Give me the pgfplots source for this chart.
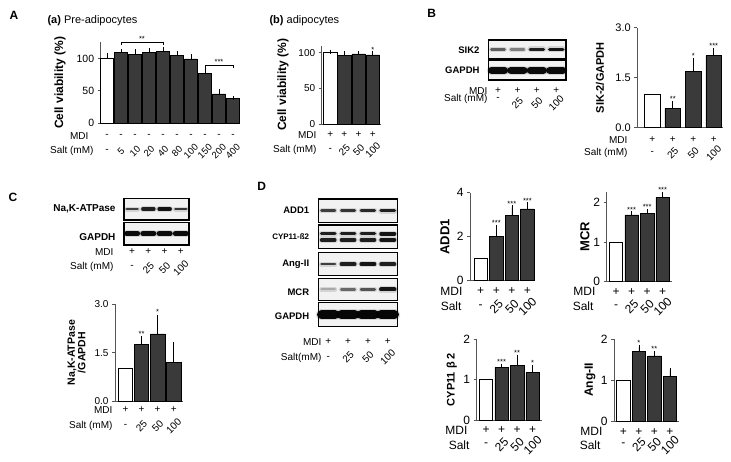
\documentclass[border=0pt]{standalone}
\usepackage{fontspec}
\setmainfont{Liberation Sans}
\usepackage{pgfplots}
\pgfplotsset{compat=1.18}

\definecolor{barc}{HTML}{3A3A3A}
\definecolor{axc}{HTML}{555555}
\newcommand{\fs}[1]{\fontsize{#1}{#1}\selectfont}

\pgfplotsset{
  barax/.style={
    scale only axis, clip=false, axis lines=left,
    axis line style={-, axc, line width=0.8pt},
    xtick=\empty, tick align=outside, major tick length=3pt,
    ytick style={axc, line width=0.8pt},
    ymin=0, enlargelimits=false,
    /pgf/number format/assume math mode=true,
    every axis y label/.style={at={(axis description cs:0,0.5)}, rotate=90, anchor=center, font=\bfseries\fs{10}, align=center},
  },
  blot/.style={scale only axis, xmin=0.5, xmax=4.5, ymin=0, ymax=1, ticks=none,
    axis line style={black, line width=1.1pt}, axis background/.style={fill=black!5}},
  errs/.style={error bars/.cd, y dir=plus, y explicit,
    error bar style={black, line width=0.6pt},
    error mark options={black, mark size=2pt, line width=0.6pt}},
  stars/.style={only marks, mark=*, mark size=0pt, mark options={draw=none,fill=none},
    nodes near coords, point meta=explicit symbolic,
    every node near coord/.append style={font=\fs{7.5}, anchor=south, inner sep=0pt, black}},
}

% rows under a 4-bar chart (bars at 0..3)
\newcommand{\rowsfour}[4]{%
  \node[font=\fs{#1}, yshift=-#2pt] at (axis cs:0,0) {+};
  \node[font=\fs{#1}, yshift=-#2pt] at (axis cs:1,0) {+};
  \node[font=\fs{#1}, yshift=-#2pt] at (axis cs:2,0) {+};
  \node[font=\fs{#1}, yshift=-#2pt] at (axis cs:3,0) {+};
  \node[font=\fs{#1}, yshift=-#3pt] at (axis cs:0,0) {-};
  \node[font=\fs{#1}, yshift=-#4pt, rotate=45] at (axis cs:1,0) {25};
  \node[font=\fs{#1}, yshift=-#4pt, rotate=45] at (axis cs:2,0) {50};
  \node[font=\fs{#1}, yshift=-#4pt, rotate=45] at (axis cs:3,0) {100};
}
% rows under a blot (lanes at 1..4)
\newcommand{\rowsblot}[4]{%
  \node[font=\fs{#1}, yshift=-#2pt] at (axis cs:1,0) {+};
  \node[font=\fs{#1}, yshift=-#2pt] at (axis cs:2,0) {+};
  \node[font=\fs{#1}, yshift=-#2pt] at (axis cs:3,0) {+};
  \node[font=\fs{#1}, yshift=-#2pt] at (axis cs:4,0) {+};
  \node[font=\fs{#1}, yshift=-#3pt] at (axis cs:1,0) {-};
  \node[font=\fs{#1}, yshift=-#4pt, rotate=45] at (axis cs:2,0) {25};
  \node[font=\fs{#1}, yshift=-#4pt, rotate=45] at (axis cs:3,0) {50};
  \node[font=\fs{#1}, yshift=-#4pt, rotate=45] at (axis cs:4,0) {100};
}
\newcommand{\band}[5]{%
  \addplot[black, line width=#4pt+2.5pt, opacity=0.12, line cap=round] coordinates {(#1,#3) (#2,#3)};
  \addplot[black, line width=#4pt, opacity=#5, line cap=round] coordinates {(#1,#3) (#2,#3)};
}

\begin{document}
\begin{tikzpicture}[x=1pt,y=1pt]
\path[use as bounding box] (0,0) rectangle (731,461);

% panel letters
\node[font=\bfseries\fs{12}] at (14,445.5) {A};
\node[font=\bfseries\fs{12}] at (431.7,447.7) {B};
\node[font=\bfseries\fs{12}] at (13,263.5) {C};
\node[font=\bfseries\fs{12}] at (261.7,274.3) {D};

% ---------------- A(a)
\node[anchor=west, font=\fs{11}] at (44,440.3) {\textbf{(a)} Pre-adipocytes};
\begin{axis}[barax, at={(100.7pt,337.7pt)}, anchor=south west,
  width=139.3pt, height=81pt, xmin=-0.45, xmax=9.5, ymax=125,
  ytick={0,50,100}, yticklabel style={font=\fs{10.5}},
  ylabel={Cell viability (\%)}, ylabel style={yshift=40.7pt, font=\bfseries\fs{12}}]
\addplot[ybar, bar shift=0pt, bar width=0.9, fill=white, draw=black, line width=0.6pt, errs]
  coordinates {(0,100.3) +- (0,5)};
\addplot[ybar, bar shift=0pt, bar width=0.9, fill=barc, draw=black, line width=0.5pt, errs]
  coordinates {(1,109.6) +- (0,2.5) (2,106.5) +- (0,5) (3,109.6) +- (0,3) (4,110.6) +- (0,4)
  (5,104.4) +- (0,4) (6,99.3) +- (0,4) (7,77.2) +- (0,5) (8,45.3) +- (0,4) (9,38.1) +- (0,1)};
\addplot[black, line width=0.6pt] coordinates {(1,120.5) (1,124.4) (4,124.4) (4,120.5)};
\addplot[black, line width=0.6pt] coordinates {(7,85.5) (7,89) (9,89) (9,85.5)};
\addplot[stars] coordinates {(2.5,125.2) [**] (8,89.8) [***]};
\node[font=\fs{10}, yshift=-12.7pt] at (axis cs:0,0) {-};
\node[font=\fs{10}, yshift=-12.7pt] at (axis cs:1,0) {-};
\node[font=\fs{10}, yshift=-12.7pt] at (axis cs:2,0) {-};
\node[font=\fs{10}, yshift=-12.7pt] at (axis cs:3,0) {-};
\node[font=\fs{10}, yshift=-12.7pt] at (axis cs:4,0) {-};
\node[font=\fs{10}, yshift=-12.7pt] at (axis cs:5,0) {-};
\node[font=\fs{10}, yshift=-12.7pt] at (axis cs:6,0) {-};
\node[font=\fs{10}, yshift=-12.7pt] at (axis cs:7,0) {-};
\node[font=\fs{10}, yshift=-12.7pt] at (axis cs:8,0) {-};
\node[font=\fs{10}, yshift=-12.7pt] at (axis cs:9,0) {-};
\node[font=\fs{10}, yshift=-27.7pt] at (axis cs:0,0) {-};
\node[font=\fs{9.5}, yshift=-28pt, rotate=45] at (axis cs:1,0) {5};
\node[font=\fs{9.5}, yshift=-28pt, rotate=45] at (axis cs:2,0) {10};
\node[font=\fs{9.5}, yshift=-28pt, rotate=45] at (axis cs:3,0) {20};
\node[font=\fs{9.5}, yshift=-28pt, rotate=45] at (axis cs:4,0) {40};
\node[font=\fs{9.5}, yshift=-28pt, rotate=45] at (axis cs:5,0) {80};
\node[font=\fs{9.5}, yshift=-28pt, rotate=45] at (axis cs:6,0) {100};
\node[font=\fs{9.5}, yshift=-28pt, rotate=45] at (axis cs:7,0) {150};
\node[font=\fs{9.5}, yshift=-28pt, rotate=45] at (axis cs:8,0) {200};
\node[font=\fs{9.5}, yshift=-28pt, rotate=45] at (axis cs:9,0) {400};
\end{axis}
\node[anchor=east, font=\fs{10}] at (92,325) {MDI};
\node[anchor=east, font=\fs{10}] at (97,310) {Salt (mM)};

% ---------------- A(b)
\node[anchor=west, font=\fs{11}] at (266,440.3) {\textbf{(b)} adipocytes};
\begin{axis}[barax, at={(321.7pt,337pt)}, anchor=south west,
  width=59.6pt, height=78.4pt, xmin=-0.6, xmax=3.6, ymax=110,
  ytick={0,50,100}, yticklabel style={font=\fs{10}},
  ylabel={Cell viability (\%)}, ylabel style={yshift=38.7pt, font=\bfseries\fs{12}}]
\addplot[ybar, bar shift=0pt, bar width=0.94, fill=white, draw=black, line width=0.6pt, errs]
  coordinates {(0,100) +- (0,0.6)};
\addplot[ybar, bar shift=0pt, bar width=0.94, fill=barc, draw=black, line width=0.5pt, errs]
  coordinates {(1,96.5) +- (0,2.5) (2,98.5) +- (0,0.8) (3,97) +- (0,3)};
\addplot[stars] coordinates {(3,100.5) [*]};
\rowsfour{10}{11}{26}{26}
\end{axis}
\node[anchor=east, font=\fs{10}] at (320,326) {MDI};
\node[anchor=east, font=\fs{10}] at (320,311) {Salt (mM)};

% ---------------- B blots
\begin{axis}[blot, at={(488.3pt,402pt)}, anchor=south west, width=77.7pt, height=19pt]
\band{0.66}{1.34}{0.5}{2.5}{0.55}
\band{1.66}{2.34}{0.5}{2.2}{0.4}
\band{2.66}{3.34}{0.5}{3.5}{0.85}
\band{3.66}{4.34}{0.5}{3.5}{0.9}
\end{axis}
\begin{axis}[blot, at={(488.3pt,381pt)}, anchor=south west, width=77.7pt, height=19.3pt, clip=false]
\band{0.66}{1.34}{0.5}{7}{0.95}
\band{1.66}{2.34}{0.5}{7}{0.95}
\band{2.66}{3.34}{0.5}{7}{0.95}
\band{3.66}{4.34}{0.5}{7}{0.95}
\rowsblot{10}{11}{19}{23}
\end{axis}
\node[anchor=east, font=\bfseries\fs{9.5}] at (483,411) {SIK2};
\node[anchor=east, font=\bfseries\fs{9.5}] at (483,391) {GAPDH};
\node[anchor=east, font=\fs{10}] at (491,370) {MDI};
\node[anchor=east, font=\fs{10}] at (491,362) {Salt (mM)};

% ---------------- B chart
\begin{axis}[barax, at={(637.3pt,333.3pt)}, anchor=south west,
  width=85.7pt, height=100pt, xmin=-0.73, xmax=3.45, ymax=3,
  ytick={0,1.5,3}, yticklabel style={font=\fs{11}, /pgf/number format/.cd, fixed, fixed zerofill, precision=1},
  ylabel={SIK-2/GAPDH}, ylabel style={yshift=37.3pt, font=\bfseries\fs{11}}]
\addplot[ybar, bar shift=0pt, bar width=0.77, fill=white, draw=black, line width=0.6pt]
  coordinates {(0,1)};
\addplot[ybar, bar shift=0pt, bar width=0.77, fill=barc, draw=black, line width=0.5pt, errs]
  coordinates {(1,0.58) +- (0,0.15) (2,1.70) +- (0,0.33) (3,2.16) +- (0,0.17)};
\addplot[stars] coordinates {(1,0.77) [**] (2,2.07) [*] (3,2.37) [***]};
\rowsfour{10}{12.3}{25.6}{25}
\end{axis}
\node[anchor=east, font=\fs{10}] at (631,321) {MDI};
\node[anchor=east, font=\fs{10}] at (631,308) {Salt (mM)};

% ---------------- C blots
\begin{axis}[blot, at={(124pt,241pt)}, anchor=south west, width=65pt, height=21.7pt]
\band{0.66}{1.34}{0.5}{2.5}{0.7}
\band{1.66}{2.34}{0.5}{3.5}{0.85}
\band{2.66}{3.34}{0.5}{3.5}{0.9}
\band{3.66}{4.34}{0.5}{2.5}{0.75}
\end{axis}
\begin{axis}[blot, at={(124pt,216pt)}, anchor=south west, width=65pt, height=22.7pt, clip=false]
\band{0.66}{1.34}{0.5}{5}{0.95}
\band{1.66}{2.34}{0.5}{5}{0.95}
\band{2.66}{3.34}{0.5}{5}{0.95}
\band{3.66}{4.34}{0.5}{5}{0.95}
\rowsblot{10}{6.7}{22.3}{23.3}
\end{axis}
\node[anchor=east, font=\bfseries\fs{10}] at (119,251.7) {Na,K-ATPase};
\node[anchor=east, font=\bfseries\fs{10}] at (119,224.3) {GAPDH};
\node[anchor=east, font=\fs{10}] at (117,209.3) {MDI};
\node[anchor=east, font=\fs{10}] at (117,193.7) {Salt (mM)};

% ---------------- C chart
\begin{axis}[barax, at={(115pt,60pt)}, anchor=south west,
  width=67.6pt, height=96.7pt, xmin=-0.65, xmax=3.55, ymax=3,
  ytick={0,1.5,3}, yticklabel style={font=\fs{10}, /pgf/number format/.cd, fixed, fixed zerofill, precision=1},
  ylabel={Na,K-ATPase\\/GAPDH}, ylabel style={yshift=38.5pt, font=\bfseries\fs{10.5}}]
\addplot[ybar, bar shift=0pt, bar width=0.89, fill=white, draw=black, line width=0.6pt]
  coordinates {(0,1.01)};
\addplot[ybar, bar shift=0pt, bar width=0.89, fill=barc, draw=black, line width=0.5pt, errs]
  coordinates {(1,1.76) +- (0,0.18) (2,2.08) +- (0,0.54) (3,1.19) +- (0,0.58)};
\addplot[stars] coordinates {(1,1.99) [**] (2,2.67) [*]};
\rowsfour{10}{9}{25}{25}
\end{axis}
\node[anchor=east, font=\fs{10}] at (116,51) {MDI};
\node[anchor=east, font=\fs{10}] at (116,35) {Salt (mM)};

% ---------------- D blots
\begin{axis}[blot, at={(318.3pt,238.7pt)}, anchor=south west, width=79.4pt, height=23.3pt]
\band{0.66}{1.34}{0.5}{2.5}{0.7}
\band{1.66}{2.34}{0.5}{2.5}{0.75}
\band{2.66}{3.34}{0.5}{3}{0.8}
\band{3.66}{4.34}{0.5}{3.5}{0.85}
\end{axis}
\begin{axis}[blot, at={(318.3pt,212.7pt)}, anchor=south west, width=79.4pt, height=23.3pt]
\band{0.66}{1.34}{0.62}{3.2}{0.85}
\band{1.66}{2.34}{0.62}{3.2}{0.85}
\band{2.66}{3.34}{0.62}{3.2}{0.85}
\band{3.66}{4.34}{0.62}{3.5}{0.9}
\band{0.66}{1.34}{0.36}{3.2}{0.85}
\band{1.66}{2.34}{0.36}{3.2}{0.85}
\band{2.66}{3.34}{0.36}{3.2}{0.85}
\band{3.66}{4.34}{0.36}{3.5}{0.9}
\end{axis}
\begin{axis}[blot, at={(318.3pt,185.3pt)}, anchor=south west, width=79.4pt, height=23pt]
\band{0.66}{1.34}{0.5}{2.5}{0.7}
\band{1.66}{2.34}{0.5}{3.5}{0.85}
\band{2.66}{3.34}{0.5}{3.5}{0.9}
\band{3.66}{4.34}{0.5}{3.5}{0.85}
\end{axis}
\begin{axis}[blot, at={(318.3pt,160.3pt)}, anchor=south west, width=79.4pt, height=22.4pt]
\band{0.66}{1.34}{0.5}{2}{0.2}
\band{1.66}{2.34}{0.5}{2.5}{0.5}
\band{2.66}{3.34}{0.5}{2.8}{0.6}
\band{3.66}{4.34}{0.5}{4}{0.9}
\end{axis}
\begin{axis}[blot, at={(318.3pt,134.3pt)}, anchor=south west, width=79.4pt, height=24pt, clip=false]
\band{0.66}{1.34}{0.5}{9}{0.97}
\band{1.66}{2.34}{0.5}{9}{0.97}
\band{2.66}{3.34}{0.5}{9}{0.97}
\band{3.66}{4.34}{0.5}{9}{0.97}
\rowsblot{10}{15}{31.6}{30}
\end{axis}
\node[anchor=east, font=\bfseries\fs{9.5}] at (312.7,250.3) {ADD1};
\node[anchor=east, font=\bfseries\fs{8}] at (312.7,224) {CYP11-ß2};
\node[anchor=east, font=\bfseries\fs{9.5}] at (312.7,196.5) {Ang-II};
\node[anchor=east, font=\bfseries\fs{9.5}] at (312.7,168.5) {MCR};
\node[anchor=east, font=\bfseries\fs{9.5}] at (312.7,144.3) {GAPDH};
\node[anchor=east, font=\fs{10}] at (325,119.3) {MDI};
\node[anchor=east, font=\fs{10}] at (325,102.7) {Salt(mM)};

% ---------------- D: ADD1
\begin{axis}[barax, at={(470pt,180.3pt)}, anchor=south west,
  width=65.2pt, height=88pt, xmin=-0.69, xmax=3.5, ymax=4,
  ytick={0,2,4}, yticklabel style={font=\fs{12}},
  ylabel={ADD1}, ylabel style={yshift=25pt, font=\bfseries\fs{13}}]
\addplot[ybar, bar shift=0pt, bar width=0.86, fill=white, draw=black, line width=0.6pt]
  coordinates {(0,1.02)};
\addplot[ybar, bar shift=0pt, bar width=0.86, fill=barc, draw=black, line width=0.5pt, errs]
  coordinates {(1,2.0) +- (0,0.45) (2,2.98) +- (0,0.35) (3,3.26) +- (0,0.21)};
\addplot[stars] coordinates {(1,2.5) [***] (2,3.38) [***] (3,3.52) [***]};
\rowsfour{12}{10.3}{26}{26}
\end{axis}
\node[anchor=east, font=\fs{12}] at (466,170) {MDI};
\node[anchor=east, font=\fs{12}] at (465,154.3) {Salt};

% ---------------- D: MCR
\begin{axis}[barax, at={(606.7pt,179.3pt)}, anchor=south west,
  width=65.3pt, height=90pt, xmin=-0.6, xmax=3.6, ymax=2.28,
  ytick={0,1,2}, yticklabel style={font=\fs{12}},
  ylabel={MCR}, ylabel style={yshift=21.7pt, font=\bfseries\fs{13}}]
\addplot[ybar, bar shift=0pt, bar width=0.86, fill=white, draw=black, line width=0.6pt]
  coordinates {(0,0.99)};
\addplot[ybar, bar shift=0pt, bar width=0.86, fill=barc, draw=black, line width=0.5pt, errs]
  coordinates {(1,1.69) +- (0,0.04) (2,1.73) +- (0,0.06) (3,2.13) +- (0,0.09)};
\addplot[stars] coordinates {(1,1.76) [***] (2,1.82) [***] (3,2.25) [***]};
\rowsfour{12}{10}{25}{25}
\end{axis}
\node[anchor=east, font=\fs{12}] at (599,169.3) {MDI};
\node[anchor=east, font=\fs{12}] at (597,154.3) {Salt};

% ---------------- D: CYP11 b2
\begin{axis}[barax, at={(476.7pt,41pt)}, anchor=south west,
  width=65.3pt, height=80.7pt, xmin=-0.6, xmax=3.6, ymax=2,
  ytick={0,1,2}, yticklabel style={font=\fs{12}},
  ylabel={CYP11 β 2}, ylabel style={yshift=25pt, font=\bfseries\fs{11}}]
\addplot[ybar, bar shift=0pt, bar width=0.86, fill=white, draw=black, line width=0.6pt]
  coordinates {(0,1.01)};
\addplot[ybar, bar shift=0pt, bar width=0.86, fill=barc, draw=black, line width=0.5pt, errs]
  coordinates {(1,1.31) +- (0,0.04) (2,1.36) +- (0,0.21) (3,1.18) +- (0,0.13)};
\addplot[stars] coordinates {(1,1.37) [***] (2,1.6) [**] (3,1.34) [*]};
\rowsfour{12}{10}{25}{25}
\end{axis}
\node[anchor=east, font=\fs{12}] at (471,31) {MDI};
\node[anchor=east, font=\fs{12}] at (473,16) {Salt};

% ---------------- D: Ang-II
\begin{axis}[barax, at={(614pt,40pt)}, anchor=south west,
  width=64.5pt, height=82pt, xmin=-0.6, xmax=3.55, ymax=2,
  ytick={0,1,2}, yticklabel style={font=\fs{12}},
  ylabel={Ang-II}, ylabel style={yshift=24pt, font=\bfseries\fs{12}}]
\addplot[ybar, bar shift=0pt, bar width=0.86, fill=white, draw=black, line width=0.6pt]
  coordinates {(0,1.0)};
\addplot[ybar, bar shift=0pt, bar width=0.86, fill=barc, draw=black, line width=0.5pt, errs]
  coordinates {(1,1.69) +- (0,0.11) (2,1.59) +- (0,0.06) (3,1.08) +- (0,0.16)};
\addplot[stars] coordinates {(1,1.83) [*] (2,1.68) [**]};
\rowsfour{12}{10.7}{24}{24}
\end{axis}
\node[anchor=east, font=\fs{12}] at (606,29.3) {MDI};
\node[anchor=east, font=\fs{12}] at (604,16) {Salt};

\end{tikzpicture}
\end{document}
